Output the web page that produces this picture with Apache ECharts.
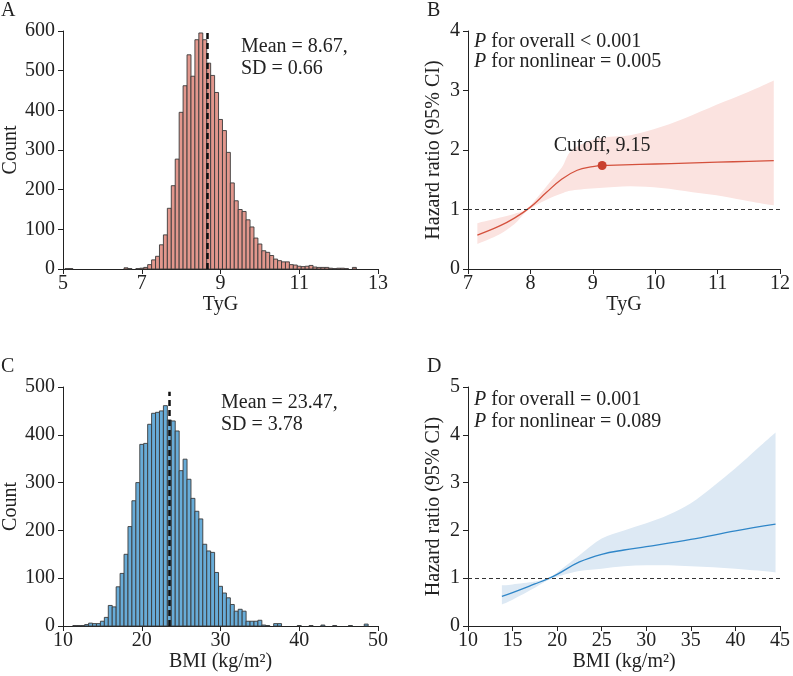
<!DOCTYPE html>
<html>
<head>
<meta charset="utf-8">
<script src="https://cdn.jsdelivr.net/npm/echarts@6/dist/echarts.min.js"></script>
<style>
  html, body { margin: 0; padding: 0; background: #fff; }
  #main { width: 793px; height: 676px; }
</style>
</head>
<body>
<div id="main"></div>
<script>
// panel A: TyG histogram (bin mid-points, bin width 0.1)
const tygMid = [5.1, 5.2, 6.6, 6.7, 6.9,
  7.0, 7.1, 7.2, 7.3, 7.4, 7.5, 7.6, 7.7, 7.8, 7.9,
  8.0, 8.1, 8.2, 8.3, 8.4, 8.5, 8.6, 8.7, 8.8, 8.9,
  9.0, 9.1, 9.2, 9.3, 9.4, 9.5, 9.6, 9.7, 9.8, 9.9,
  10.0, 10.1, 10.2, 10.3, 10.4, 10.5, 10.6, 10.7, 10.8, 10.9,
  11.0, 11.1, 11.2, 11.3, 11.4, 11.5, 11.6, 11.7, 11.8, 11.9,
  12.0, 12.1, 12.2, 12.4]
const tygCount = [1, 1, 3, 1, 1,
  2, 4, 11, 23, 32, 61, 86, 153, 210, 277,
  395, 462, 540, 486, 578, 595, 578, 519, 488, 445,
  377, 349, 294, 217, 172, 150, 145, 124, 106, 78,
  63, 46, 42, 34, 25, 21, 18, 18, 11, 10,
  7, 6, 7, 9, 5, 4, 4, 4, 2, 1,
  2, 2, 1, 4]
const tygBinWidth = 0.1
const tygMean = 8.67
const tygMeanTop = 595

// panel C: BMI histogram (bin width 0.5)
const bmiMid = [11.5, 12.0, 12.5, 13.0, 13.5, 14.0, 14.5, 15.0, 15.5,
  16.0, 16.5, 17.0, 17.5, 18.0, 18.5, 19.0, 19.5, 20.0, 20.5,
  21.0, 21.5, 22.0, 22.5, 23.0, 23.5, 24.0, 24.5, 25.0, 25.5,
  26.0, 26.5, 27.0, 27.5, 28.0, 28.5, 29.0, 29.5, 30.0, 30.5,
  31.0, 31.5, 32.0, 32.5, 33.0, 33.5, 34.0, 34.5, 35.0, 35.5,
  36.0, 37.0, 37.5, 40.0, 41.5, 43.0, 44.5, 46.5, 48.5]
const bmiCount = [1, 1, 1, 3, 6, 5, 5, 10, 18,
  43, 40, 82, 110, 150, 208, 262, 300, 380, 382,
  422, 445, 447, 450, 461, 431, 429, 408, 325, 349,
  307, 267, 240, 224, 171, 157, 154, 112, 83, 69,
  59, 45, 31, 35, 31, 10, 10, 10, 12, 2,
  1, 5, 5, 1, 1, 2, 1, 1, 4]
const bmiBinWidth = 0.5
const bmiMean = 23.47
const bmiMeanTop = 490

// panel B: restricted cubic spline, TyG
const tygX = [7.15, 7.5, 7.75, 8.0, 8.25, 8.5, 8.75, 9.0, 9.15, 9.5, 10, 10.5, 11, 11.5, 11.9]
const tygHR = [0.57, 0.72, 0.86, 1.04, 1.28, 1.51, 1.66, 1.72, 1.74, 1.75, 1.765, 1.78, 1.795, 1.81, 1.82]
const tygBandX = [7.15, 7.5, 7.75, 7.95, 8.25, 8.5, 8.67, 9.1, 9.6, 10.1, 10.6, 11.1, 11.5, 11.9]
const tygUpper = [0.77, 0.86, 0.93, 1.02, 1.38, 1.70, 2.0, 2.2, 2.25, 2.39, 2.59, 2.81, 2.98, 3.17]
const tygLower = [0.42, 0.58, 0.76, 0.98, 1.16, 1.27, 1.32, 1.36, 1.39, 1.36, 1.29, 1.22, 1.14, 1.07]
const cutoffX = 9.15
const cutoffHR = 1.74

// panel D: restricted cubic spline, BMI
const bmiX = [13.8, 15, 17.5, 19, 20, 22.5, 25, 27.5, 30, 35, 40, 44.5]
const bmiHR = [0.62, 0.70, 0.88, 0.99, 1.08, 1.34, 1.50, 1.59, 1.66, 1.81, 1.99, 2.13]
const bmiBandX = [13.8, 15, 17.5, 19, 20, 22.5, 25, 27.5, 30, 32.5, 35, 37.5, 40, 42.5, 44.5]
const bmiUpper = [0.85, 0.87, 0.93, 1.0, 1.12, 1.48, 1.83, 2.0, 2.15, 2.33, 2.57, 2.92, 3.3, 3.72, 4.05]
const bmiLower = [0.45, 0.55, 0.80, 0.96, 1.03, 1.15, 1.2, 1.25, 1.27, 1.27, 1.25, 1.23, 1.2, 1.16, 1.12]

const FONT = '"Liberation Serif", "Times New Roman", serif'
const INK = '#222'

const zip = (xs, ys) => xs.map((x, i) => [x, ys[i]])

function histItem(binWidth, fill) {
  return function (params, api) {
    const x = api.value(0)
    const p0 = api.coord([x - binWidth / 2, 0])
    const p1 = api.coord([x + binWidth / 2, api.value(1)])
    return {
      type: 'rect',
      shape: { x: p0[0], y: p1[1], width: p1[0] - p0[0], height: p0[1] - p1[1] },
      style: { fill: fill, stroke: '#3a3a3a', lineWidth: 0.9 }
    }
  }
}

// catmull-rom through screen points, as cubic bezier path commands
function curveCmds(pts) {
  let d = ''
  for (let i = 0; i < pts.length - 1; i++) {
    const p0 = pts[Math.max(i - 1, 0)], p1 = pts[i], p2 = pts[i + 1], p3 = pts[Math.min(i + 2, pts.length - 1)]
    const c1 = [p1[0] + (p2[0] - p0[0]) / 6, p1[1] + (p2[1] - p0[1]) / 6]
    const c2 = [p2[0] - (p3[0] - p1[0]) / 6, p2[1] - (p3[1] - p1[1]) / 6]
    d += ' C' + c1[0] + ' ' + c1[1] + ' ' + c2[0] + ' ' + c2[1] + ' ' + p2[0] + ' ' + p2[1]
  }
  return d
}

// CI band: one path from the upper edge and the lower edge (rows are [x, lower, upper])
function bandItem(color) {
  return function (params, api) {
    if (params.dataIndexInside !== 0) return null
    const n = params.dataInsideLength
    const up = [], lo = []
    for (let i = 0; i < n; i++) {
      up.push(api.coord([api.value(0, i), api.value(2, i)]))
      lo.push(api.coord([api.value(0, i), api.value(1, i)]))
    }
    lo.reverse()
    const d = 'M' + up[0][0] + ' ' + up[0][1] + curveCmds(up) +
      ' L' + lo[0][0] + ' ' + lo[0][1] + curveCmds(lo) + ' Z'
    return { type: 'path', shape: { pathData: d }, style: { fill: color } }
  }
}

function bandSeries(axis, xs, lo, hi, color) {
  return {
    type: 'custom', xAxisIndex: axis, yAxisIndex: axis, silent: true, z: 1,
    data: xs.map((x, i) => [x, lo[i], hi[i]]),
    encode: { x: 0, y: [1, 2] },
    renderItem: bandItem(color)
  }
}

function xAxis(grid, min, max, interval, name) {
  return {
    type: 'value', gridIndex: grid, min: min, max: max, interval: interval,
    name: name, nameLocation: 'middle', nameGap: 26,
    nameTextStyle: { fontFamily: FONT, fontSize: 20, color: INK },
    axisLine: { show: true, onZero: false, lineStyle: { color: INK, width: 1 } },
    axisTick: { show: true, length: 5, lineStyle: { color: INK } },
    axisLabel: { fontFamily: FONT, fontSize: 20, color: INK, margin: 5 },
    splitLine: { show: false }
  }
}

function yAxis(grid, max, interval, name, gap) {
  return {
    type: 'value', gridIndex: grid, min: 0, max: max, interval: interval,
    name: name, nameLocation: 'middle', nameGap: gap, nameRotate: 90,
    nameTextStyle: { fontFamily: FONT, fontSize: 20, color: INK },
    axisLine: { show: true, onZero: false, lineStyle: { color: INK, width: 1 } },
    axisTick: { show: true, length: 5, lineStyle: { color: INK } },
    axisLabel: { fontFamily: FONT, fontSize: 20, color: INK, margin: 8 },
    splitLine: { show: false }
  }
}

function meanLine(mean, top) {
  return {
    silent: true, symbol: 'none', label: { show: false },
    lineStyle: { color: '#111', width: 2.5, type: [6, 4] },
    data: [[{ coord: [mean, 0] }, { coord: [mean, top] }]]
  }
}

const refLine = {
  silent: true, symbol: 'none', label: { show: false },
  lineStyle: { color: '#333', width: 1, type: [4, 3] },
  data: [{ yAxis: 1 }]
}

function textEl(left, top, text, lineHeight) {
  return {
    type: 'text', left: left, top: top, silent: true,
    style: {
      text: text, fill: INK, fontFamily: FONT, fontSize: 20, lineHeight: lineHeight || 22,
      rich: {
        i: { fontFamily: FONT, fontSize: 20, fontStyle: 'italic', fill: INK, lineHeight: lineHeight || 22 }
      }
    }
  }
}

const chart = echarts.init(document.getElementById('main'), null, { renderer: 'canvas' })

const option = {
  animation: false,
  backgroundColor: '#fff',
  grid: [
    { left: 62, top: 31, width: 316, height: 238 },
    { left: 468, top: 31, width: 315, height: 238 },
    { left: 62, top: 387, width: 316, height: 239 },
    { left: 468, top: 387, width: 315, height: 239 }
  ],
  xAxis: [
    xAxis(0, 5, 13, 2, 'TyG'),
    xAxis(1, 7, 12, 1, 'TyG'),
    xAxis(2, 10, 50, 10, 'BMI (kg/m²)'),
    xAxis(3, 10, 45, 5, 'BMI (kg/m²)')
  ],
  yAxis: [
    yAxis(0, 600, 100, 'Count', 42),
    yAxis(1, 4, 1, 'Hazard ratio (95% CI)', 24),
    yAxis(2, 500, 100, 'Count', 42),
    yAxis(3, 5, 1, 'Hazard ratio (95% CI)', 24)
  ],
  series: [
    {
      type: 'custom', xAxisIndex: 0, yAxisIndex: 0,
      data: zip(tygMid, tygCount), encode: { x: 0, y: 1 },
      renderItem: histItem(tygBinWidth, '#e2978d'),
      markLine: meanLine(tygMean, tygMeanTop)
    },
    {
      type: 'custom', xAxisIndex: 2, yAxisIndex: 2,
      data: zip(bmiMid, bmiCount), encode: { x: 0, y: 1 },
      renderItem: histItem(bmiBinWidth, '#68acd8'),
      markLine: meanLine(bmiMean, bmiMeanTop)
    },
    bandSeries(1, tygBandX, tygLower, tygUpper, '#fbe3e0'),
    {
      type: 'line', xAxisIndex: 1, yAxisIndex: 1,
      data: zip(tygX, tygHR), smooth: 0.4, symbol: 'none',
      lineStyle: { color: '#d4513d', width: 1.3 }, z: 3,
      markLine: refLine
    },
    {
      type: 'scatter', xAxisIndex: 1, yAxisIndex: 1,
      data: [[cutoffX, cutoffHR]], symbolSize: 9, z: 4,
      itemStyle: { color: '#c9412f', opacity: 1 },
      label: {
        show: true, position: 'top', distance: 5,
        formatter: 'Cutoff, ' + cutoffX.toFixed(2),
        fontFamily: FONT, fontSize: 20, color: INK
      }
    },
    bandSeries(3, bmiBandX, bmiLower, bmiUpper, '#dde9f4'),
    {
      type: 'line', xAxisIndex: 3, yAxisIndex: 3,
      data: zip(bmiX, bmiHR), smooth: 0.4, symbol: 'none',
      lineStyle: { color: '#2f86c8', width: 1.3 }, z: 3,
      markLine: refLine
    }
  ],
  graphic: [
    textEl(1, 0, 'A'),
    textEl(427, 0, 'B'),
    textEl(1, 356, 'C'),
    textEl(427, 356, 'D'),
    textEl(241, 35, 'Mean = 8.67,\nSD = 0.66', 22.5),
    textEl(221, 392, 'Mean = 23.47,\nSD = 3.78', 22),
    textEl(474, 31, '{i|P} for overall < 0.001\n{i|P} for nonlinear = 0.005', 20.5),
    textEl(474, 389, '{i|P} for overall = 0.001\n{i|P} for nonlinear = 0.089', 21.5)
  ]
}

chart.setOption(option)
</script>
</body>
</html>
